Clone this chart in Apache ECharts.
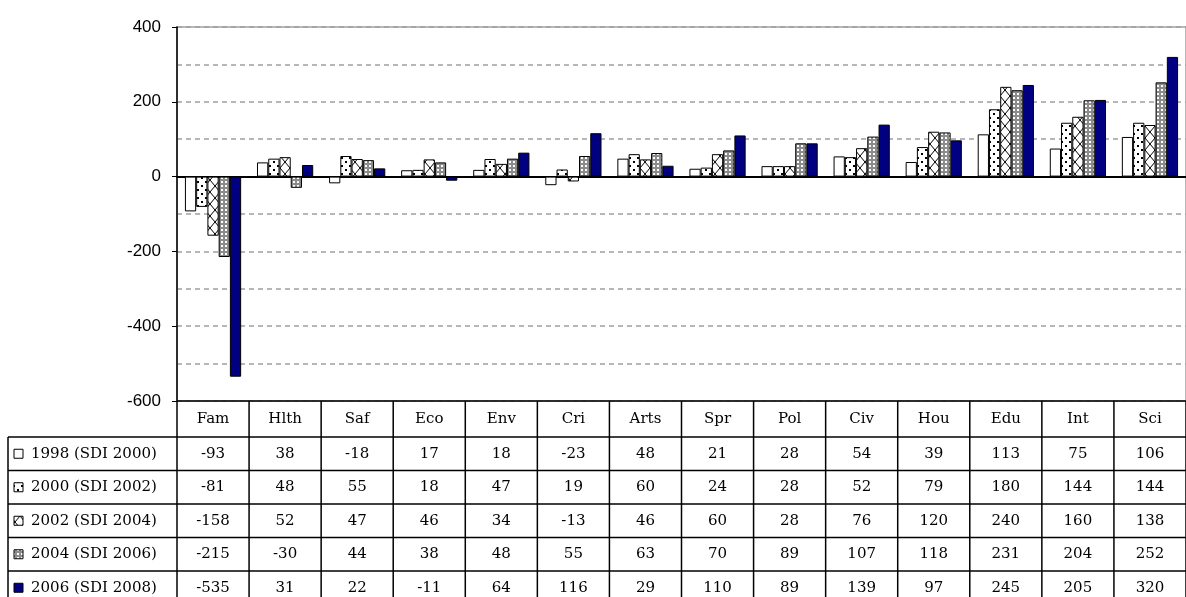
<!DOCTYPE html>
<html>
<head>
<meta charset="utf-8">
<script src="https://cdn.jsdelivr.net/npm/echarts@6/dist/echarts.min.js"></script>
<style>
  html, body { margin: 0; padding: 0; background: #fff; }
  #main { width: 1186px; height: 597px; }
</style>
</head>
<body>
<div id="main"></div>
<script>
var categories = ['Fam', 'Hlth', 'Saf', 'Eco', 'Env', 'Cri', 'Arts', 'Spr', 'Pol', 'Civ', 'Hou', 'Edu', 'Int', 'Sci'];
var seriesNames = ['1998 (SDI 2000)', '2000 (SDI 2002)', '2002 (SDI 2004)', '2004 (SDI 2006)', '2006 (SDI 2008)'];
var v1998 = [-93, 38, -18, 17, 18, -23, 48, 21, 28, 54, 39, 113, 75, 106];
var v2000 = [-81, 48, 55, 18, 47, 19, 60, 24, 28, 52, 79, 180, 144, 144];
var v2002 = [-158, 52, 47, 46, 34, -13, 46, 60, 28, 76, 120, 240, 160, 138];
var v2004 = [-215, -30, 44, 38, 48, 55, 63, 70, 89, 107, 118, 231, 204, 252];
var v2006 = [-535, 31, 22, -11, 64, 116, 29, 110, 89, 139, 97, 245, 205, 320];
var allValues = [v1998, v2000, v2002, v2004, v2006];

// fill patterns, like the old excel ones
function makePattern(w, h, draw) {
  var c = document.createElement('canvas');
  c.width = w;
  c.height = h;
  var ctx = c.getContext('2d');
  draw(ctx);
  return { image: c, repeat: 'repeat' };
}

var fills = [
  '#ffffff',
  makePattern(8, 8, function (ctx) {
    ctx.fillStyle = '#fff';
    ctx.fillRect(0, 0, 8, 8);
    ctx.fillStyle = '#000';
    ctx.fillRect(1, 1, 2, 2);
    ctx.fillRect(5, 5, 2, 2);
  }),
  makePattern(10, 12, function (ctx) {
    ctx.fillStyle = '#fff';
    ctx.fillRect(0, 0, 10, 12);
    ctx.strokeStyle = '#000';
    ctx.lineWidth = 1;
    ctx.beginPath();
    ctx.moveTo(0, 0); ctx.lineTo(10, 12);
    ctx.moveTo(10, 0); ctx.lineTo(0, 12);
    ctx.stroke();
  }),
  makePattern(4, 4, function (ctx) {
    ctx.fillStyle = '#8c8c8c';
    ctx.fillRect(0, 0, 4, 4);
    ctx.fillStyle = '#fff';
    ctx.fillRect(1, 1, 2, 2);
  }),
  '#000080'
];

var gridLeft = 177, gridRight = 1186, gridTop = 27, gridBottomY = 401;
var colW = (gridRight - gridLeft) / categories.length;
var headerBottom = 437, rowH = 33.5;
var tableFont = '15px "DejaVu Serif", serif';

var graphics = [];
function hline(x1, x2, y) {
  graphics.push({ type: 'line', shape: { x1: x1, y1: y, x2: x2, y2: y }, style: { stroke: '#000', lineWidth: 1.5 }, z: 100 });
}
function vline(x, y1, y2) {
  graphics.push({ type: 'line', shape: { x1: x, y1: y1, x2: x, y2: y2 }, style: { stroke: '#000', lineWidth: 1.5 }, z: 100 });
}
function text(str, x, y, align) {
  graphics.push({
    type: 'text', z: 100,
    style: { text: str, x: x, y: y, font: tableFont, fill: '#000', textAlign: align || 'center', textVerticalAlign: 'middle', verticalAlign: 'middle' }
  });
}

var tableBottom = headerBottom + rowH * seriesNames.length;
hline(gridLeft, gridRight, gridBottomY);
hline(8, gridRight, headerBottom);
vline(8, headerBottom, tableBottom);
for (var k = 0; k <= categories.length; k++) {
  vline(gridLeft + k * colW, gridBottomY, tableBottom);
}
categories.forEach(function (c, i) {
  text(c, gridLeft + (i + 0.5) * colW, (gridBottomY + headerBottom) / 2);
});
seriesNames.forEach(function (name, r) {
  var yTop = headerBottom + r * rowH;
  var yMid = yTop + rowH / 2;
  hline(8, gridRight, yTop + rowH);
  graphics.push({
    type: 'rect', z: 100,
    shape: { x: 14, y: yMid - 4.5, width: 9, height: 9 },
    style: { fill: fills[r], stroke: '#000', lineWidth: 1 }
  });
  text(name, 31, yMid, 'left');
  allValues[r].forEach(function (v, i) {
    text(String(v), gridLeft + (i + 0.5) * colW, yMid);
  });
});

var chart = echarts.init(document.getElementById('main'), null, { renderer: 'canvas' });

var option = {
  animation: false,
  backgroundColor: '#fff',
  grid: {
    left: gridLeft,
    right: 0,
    top: gridTop,
    bottom: 597 - gridBottomY,
    show: true,
    borderColor: '#a0a0a0',
    borderWidth: 1.5,
    backgroundColor: 'transparent'
  },
  xAxis: {
    type: 'category',
    data: categories,
    axisLine: { onZero: true, lineStyle: { color: '#000', width: 2 } },
    axisTick: { show: false },
    axisLabel: { show: false }
  },
  yAxis: {
    type: 'value',
    min: -600,
    max: 400,
    interval: 200,
    axisLine: { show: true, lineStyle: { color: '#000', width: 1.5 } },
    axisTick: { show: true, length: 5, lineStyle: { color: '#000' } },
    axisLabel: { color: '#000', fontSize: 17, fontFamily: '"Liberation Sans", sans-serif', margin: 16 },
    splitLine: { show: true, lineStyle: { color: '#a0a0a0', type: [5, 4], width: 1.5 } },
    minorTick: { show: false, splitNumber: 2 },
    minorSplitLine: { show: true, lineStyle: { color: '#a0a0a0', type: [5, 4], width: 1.5 } }
  },
  series: seriesNames.map(function (name, r) {
    return {
      name: name,
      type: 'bar',
      data: allValues[r],
      barGap: '0%',
      barCategoryGap: '22%',
      itemStyle: { color: fills[r], borderColor: '#000', borderWidth: 1 }
    };
  }),
  graphic: graphics
};

chart.setOption(option);
</script>
</body>
</html>
